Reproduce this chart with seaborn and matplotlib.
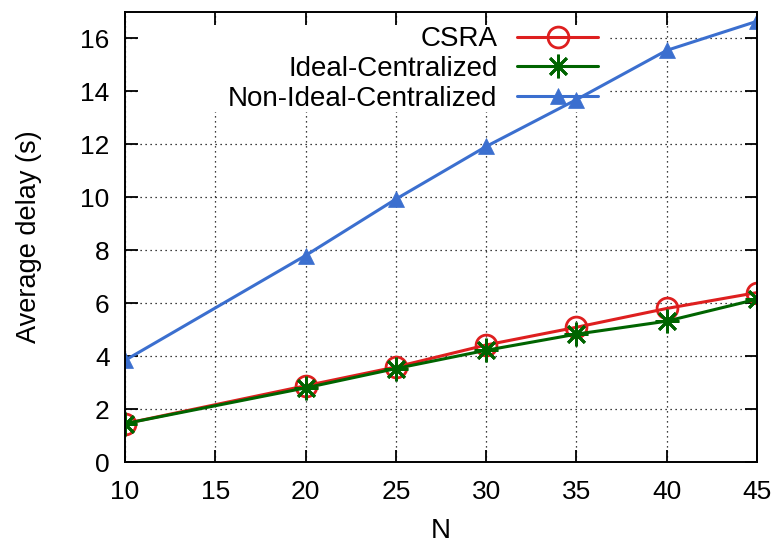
import matplotlib
matplotlib.use("Agg")
import matplotlib.pyplot as plt
from matplotlib.patches import Rectangle
import seaborn as sns
import pandas as pd

# ---- data ----
n_values = [10, 20, 25, 30, 35, 40, 45]
csra = [1.45, 2.88, 3.59, 4.42, 5.09, 5.80, 6.40]
ideal_central = [1.45, 2.80, 3.53, 4.22, 4.83, 5.32, 6.15]
nonideal_central = [3.84, 7.80, 9.93, 11.92, 13.69, 15.55, 16.65]
series_names = ["CSRA", "Ideal-Centralized", "Non-Ideal-Centralized"]
x_ticks = [10, 15, 20, 25, 30, 35, 40, 45]
y_ticks = [0, 2, 4, 6, 8, 10, 12, 14, 16]

sns.set_style("ticks")
plt.rcParams["font.family"] = ["Liberation Sans", "DejaVu Sans"]
plt.rcParams["text.color"] = "black"
plt.rcParams["axes.labelcolor"] = "black"

TICK_FS = 19
LABEL_FS = 19.5
LEG_FS = 20

W, H = 779, 545
AX_L, AX_R, AX_T, AX_B = 125, 757, 12, 462
fig = plt.figure(figsize=(W / 100, H / 100), dpi=100)
ax = fig.add_axes([AX_L / W, 1 - AX_B / H, (AX_R - AX_L) / W, (AX_B - AX_T) / H])


def ax_x(px):
    return (px - AX_L) / (AX_R - AX_L)


def ax_y(py):
    return (AX_B - py) / (AX_B - AX_T)


colors = {"CSRA": "#de1f1f", "Ideal-Centralized": "#006400",
          "Non-Ideal-Centralized": "#3b6fcf"}
values = {"CSRA": csra, "Ideal-Centralized": ideal_central,
          "Non-Ideal-Centralized": nonideal_central}
styles = {
    "CSRA": dict(marker="o", markersize=15, markerfacecolor="none",
                 markeredgewidth=2.0),
    "Ideal-Centralized": dict(marker=(8, 2, 0), markersize=17,
                              markeredgewidth=2.0),
    "Non-Ideal-Centralized": dict(marker="^", markersize=11,
                                  markeredgewidth=0.5),
}

for name in series_names:
    df = pd.DataFrame({"N": n_values, "delay": values[name]})
    sns.lineplot(data=df, x="N", y="delay", ax=ax, color=colors[name],
                 linewidth=2.2, label=name,
                 markeredgecolor=colors[name], **styles[name])

ax.set_xlim(10, 45)
ax.set_ylim(0, 17)
ax.set_xticks(x_ticks)
ax.set_yticks(y_ticks)
ax.set_axisbelow(True)
ax.grid(True, color="black", linestyle=(0, (1, 3)), linewidth=0.9)

for s in ax.spines.values():
    s.set_visible(True)
    s.set_linewidth(1.4)
    s.set_color("black")
ax.tick_params(direction="in", length=9, width=1.3, top=True, right=True,
               labelsize=TICK_FS, colors="black")
ax.tick_params(axis="x", pad=13)
ax.tick_params(axis="y", pad=11)

ax.set_xlabel("N", fontsize=LABEL_FS + 0.5)
ax.set_ylabel("Average delay (s)", fontsize=LABEL_FS)
ax.xaxis.set_label_coords(0.5, ax_y(518))
ax.yaxis.set_label_coords(ax_x(42), 0.5)

# white key background hiding the grid (as in the gnuplot key area)
bg = Rectangle((ax_x(138), ax_y(112)), ax_x(610) - ax_x(138), ax_y(25) - ax_y(112),
               transform=ax.transAxes, facecolor="white", edgecolor="none",
               zorder=1.8)
ax.add_patch(bg)

leg = ax.legend(loc="upper right", bbox_to_anchor=(ax_x(598), ax_y(26.5)),
                markerfirst=False, frameon=False,
                fontsize=LEG_FS, handlelength=2.9, handletextpad=0.72,
                labelspacing=0.13, borderpad=0.0, borderaxespad=0.0)
leg.set_zorder(1.9)

fig.savefig("out.png", dpi=100)
